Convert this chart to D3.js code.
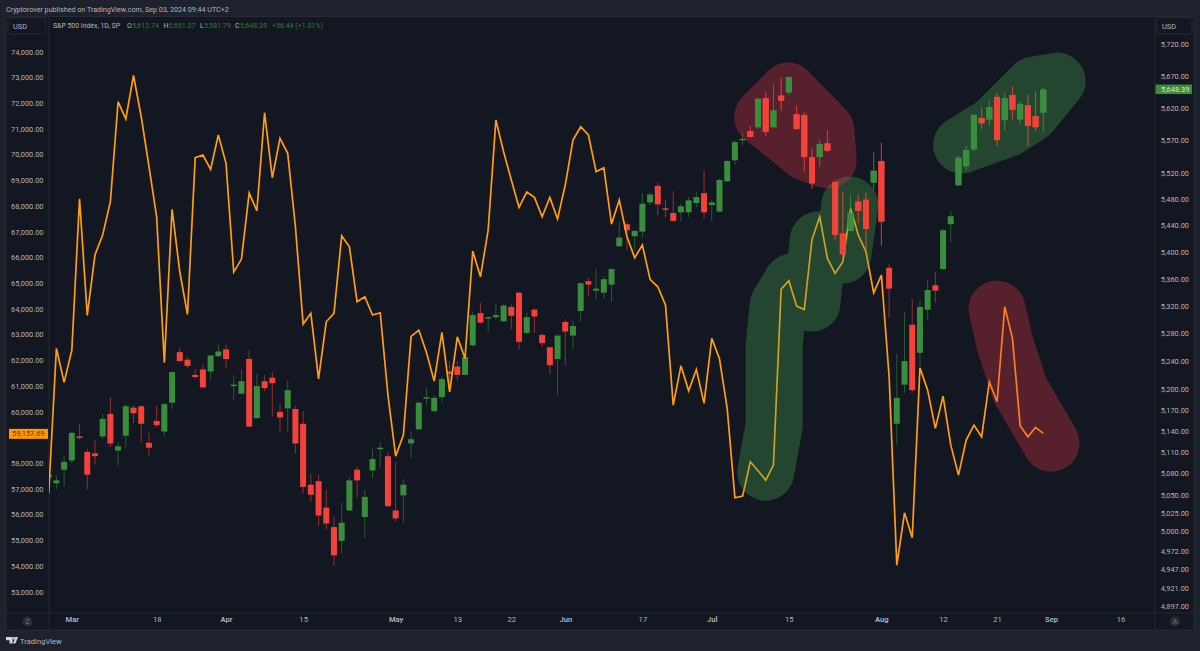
<!DOCTYPE html>
<html><head><meta charset="utf-8">
<style>html,body{margin:0;padding:0;background:#1e222d;overflow:hidden}svg{display:block}text{font-family:Roboto,"Noto Sans",sans-serif}</style>
<script src="https://cdn.jsdelivr.net/npm/d3@7"></script></head><body><svg id="c" width="1200" height="651"></svg>
<script>
const opens=[5074,5066,5085,5098,5132,5110,5108,5132,5164,5112,5133,5173,5175,5123,5154,5139,5180,5253,5242,5220,5228,5225,5247,5257,5204,5193,5243,5158,5211,5216,5167,5172,5171,5150,5064,5069,5032,5005,4986,5028,5085,5019,5084,5114,5104,5028,5049,5122,5142,5186,5168,5188,5225,5232,5220,5263,5310,5302,5304,5298,5319,5340,5281,5315,5278,5260,5243,5297,5277,5313,5357,5343,5340,5352,5409,5442,5424,5431,5475,5500,5466,5459,5460,5460,5474,5489,5471,5461,5507,5539,5571,5584,5590,5635,5590,5639,5644,5610,5609,5544,5544,5565,5506,5428,5432,5476,5479,5505,5538,5377,5150,5206,5293,5252,5315,5351,5375,5442,5501,5530,5556,5604,5602,5637,5601,5640,5602,5624,5607,5612.74];
const highs=[5078,5077,5104,5140,5150,5114,5128,5164,5188,5124,5178,5177,5176,5137,5176,5180,5225,5260,5246,5228,5235,5249,5264,5264,5220,5228,5256,5222,5220,5224,5178,5212,5175,5168,5079,5078,5057,5019,5039,5075,5089,5057,5114,5124,5110,5096,5072,5139,5182,5201,5191,5218,5240,5240,5249,5311,5325,5305,5324,5323,5323,5341,5311,5317,5281,5261,5279,5301,5299,5355,5362,5375,5364,5376,5446,5444,5433,5489,5490,5506,5479,5492,5473,5483,5491,5524,5479,5511,5539,5570,5582,5592,5635,5644,5657,5667,5669,5623,5613,5557,5570,5585,5507,5491,5487,5487,5490,5551,5566,5382,5250,5312,5331,5329,5359,5371,5435,5462,5546,5561,5609,5621,5632,5643,5643,5653,5630,5640,5646,5651.37];
const lows=[5052,5058,5062,5094,5128,5057,5092,5128,5117,5091,5115,5151,5123,5105,5145,5132,5171,5239,5230,5215,5201,5213,5246,5229,5184,5192,5145,5157,5197,5160,5139,5139,5108,5052,5040,5007,5002,4952,4969,5027,5046,4990,5073,5088,5033,5013,5011,5101,5141,5177,5166,5180,5208,5212,5219,5261,5295,5283,5301,5297,5286,5257,5278,5281,5261,5221,5191,5234,5257,5297,5335,5330,5331,5327,5408,5403,5403,5421,5471,5455,5452,5446,5446,5453,5468,5451,5447,5460,5506,5532,5562,5574,5588,5576,5588,5616,5640,5586,5522,5496,5529,5552,5419,5392,5431,5444,5403,5494,5410,5303,5120,5194,5194,5233,5300,5325,5374,5415,5500,5524,5553,5587,5592,5561,5584,5602,5594,5561,5584,5581.79];
const closes=[5078,5070,5096,5137,5130,5078,5104,5157,5122,5118,5175,5165,5150,5116,5148,5178,5224,5240,5233,5217,5202,5248,5254,5243,5206,5211,5146,5204,5201,5208,5159,5198,5122,5061,5050,5021,5010,4966,5011,5070,5070,5047,5100,5116,5034,5017,5064,5128,5180,5188,5187,5214,5221,5220,5246,5307,5296,5304,5307,5321,5306,5268,5304,5305,5266,5234,5277,5283,5291,5354,5352,5346,5360,5375,5422,5433,5432,5473,5487,5472,5464,5447,5469,5478,5483,5460,5475,5509,5538,5567,5572,5575,5634,5583,5616,5631,5668,5587,5544,5504,5564,5554,5426,5397,5459,5462,5435,5523,5446,5346,5187,5240,5198,5319,5344,5343,5433,5454,5543,5555,5609,5596,5621,5570,5635,5617,5626,5592,5590,5648.39];
const overlay=[56833,62462,61140,62396,68282,63746,66092,66870,68165,72055,71382,73082,71471,69554,67581,61902,67869,65442,63785,69877,69982,69425,70760,69659,65430,65936,68503,67815,71627,69099,70631,70048,67192,63408,63824,61280,63497,63824,66842,66414,64275,64469,63758,63847,60646,58273,59090,62929,63174,62299,61190,63085,60774,62913,62073,66247,65247,67064,71343,70110,69009,67947,68542,68336,67581,68336,67492,68815,70565,71082,70760,69332,69488,67298,68231,66803,65987,66481,65146,64858,64147,60257,61785,60813,61645,60323,62851,62058,60128,56651,56717,58051,57701,57339,57923,64769,65092,64108,63972,66702,67581,65963,65380,65831,67908,66870,66220,64625,65314,61385,54033,56067,55095,61708,60840,59350,60607,58701,57534,58895,59479,59024,61163,60385,64081,62851,59452,59024,59389,59157.69];
const leftTicks=[53000,54000,55000,56000,57000,58000,60000,61000,62000,63000,64000,65000,66000,67000,68000,69000,70000,71000,72000,73000,74000];
const rightTicks=[4897,4921,4947,4972,5000,5025,5050,5080,5110,5140,5170,5200,5240,5280,5320,5360,5400,5440,5480,5520,5570,5620,5670,5720];
const timeIdx=[3,14,23,33,45,53,60,67,77,86,96,108,116,123,130,139];
const timeLabels=["Mar","18","Apr","15","May","13","22","Jun","17","Jul","15","Aug","12","21","Sep","16"];
// hand-drawn highlight strokes, as [bar index, left-axis value]
const greenBrush=[[[93,57650],[94.1,59479],[94.1,62591],[94.6,64147],[96.4,65041],[99,64224],[99.8,66675],[103,66092],[103.9,68037]]];
const redBrush=[[[92.6,71460],[95.9,72471],[100.8,70954],[101.1,69787],[98.4,70059],[92.6,71460]]];
const greenBrush2=[[[118.4,70371],[122.6,71149],[125.2,71927],[127.8,72705],[130.8,72860],[127.3,71577],[124.2,70993],[118.4,70371]]];
const redBrush2=[[[123,63991],[124,62668],[126,60840],[130,58778]]];

const svg=d3.select("#c");
const PL=49,PR=1155,PT=17,PB=613;
const x=d3.scaleLinear().domain([0,129]).range([48.7,1043.3]);
const yL=d3.scaleLinear().domain([74000,53000]).range([51.7,591.7]);
const yR=d3.scaleLog().domain([4897,5720]).range([606,44]);
const grid="#2a2e39",bg="#131722",txt="#b2b5be",up="#388e3c",dn="#f4413a";

svg.append("rect").attr("width",1200).attr("height",651).attr("fill","#1e222d");
svg.append("rect").attr("x",6).attr("y",16.5).attr("width",1188).attr("height",613.5).attr("fill",bg).attr("stroke",grid).attr("stroke-width",.8);
svg.append("defs").append("clipPath").attr("id","plot").append("rect").attr("x",PL).attr("y",PT).attr("width",PR-PL).attr("height",PB-PT);
[[PL,PT,PL,630],[PR,PT,PR,630],[6,PB,1194,PB]].forEach(l=>svg.append("line").attr("x1",l[0]).attr("y1",l[1]).attr("x2",l[2]).attr("y2",l[3]).attr("stroke",grid).attr("stroke-width",.8));

svg.append("text").attr("x",6).attr("y",11.5).attr("fill",txt).attr("font-size",7.15).text("Cryptorover published on TradingView.com, Sep 03, 2024 09:44 UTC+2");

const plot=svg.append("g").attr("clip-path","url(#plot)");
const idx=d3.range(opens.length);
const col=i=>closes[i]>=opens[i]?up:dn;
function candles(list){
  const g=plot.append("g");
  g.append("g").selectAll("line").data(list).join("line")
   .attr("x1",x).attr("x2",x).attr("y1",i=>yR(highs[i])).attr("y2",i=>yR(lows[i]))
   .attr("stroke",col).attr("stroke-width",.8).attr("stroke-opacity",.72);
  g.append("g").selectAll("rect").data(list).join("rect")
   .attr("x",i=>x(i)-3).attr("width",6)
   .attr("y",i=>Math.min(yR(opens[i]),yR(closes[i])))
   .attr("height",i=>Math.max(1.5,Math.abs(yR(opens[i])-yR(closes[i]))))
   .attr("fill",col);
}
candles(idx);
plot.append("path").datum(overlay)
 .attr("d",d3.line().x((d,i)=>x(i)).y(d=>yL(d)))
 .attr("fill","none").attr("stroke","#ff9e12").attr("stroke-width",1.7).attr("stroke-linejoin","miter");

const brushLine=d3.line().x(d=>x(d[0])).y(d=>yL(d[1]));
function brush(strokes,color){
  plot.append("path").attr("d",strokes.map(s=>brushLine(s)).join(""))
   .attr("fill","none").attr("stroke",color).attr("stroke-opacity",.3)
   .attr("stroke-width",57).attr("stroke-linecap","round").attr("stroke-linejoin","round");
}
brush(greenBrush,"#4caf50");brush(greenBrush2,"#4caf50");
brush(redBrush,"#f23645");brush(redBrush2,"#f23645");
// candles keep their full colour where the highlights lie over them
candles(idx.filter(i=>(i>=91&&i<=108)||i>=118));

function styleAxis(g){g.select(".domain").remove();g.selectAll("text").attr("fill",txt).attr("font-size",7.4).style("font-family","Roboto,'Noto Sans',sans-serif");}
svg.append("g").attr("transform",`translate(${PL},0)`)
 .call(d3.axisLeft(yL).tickValues(leftTicks).tickSize(0).tickPadding(5.5).tickFormat(d3.format(",.2f"))).call(styleAxis);
svg.append("g").attr("transform",`translate(1189,0)`)
 .call(d3.axisLeft(yR).tickValues(rightTicks).tickSize(0).tickPadding(0).tickFormat(d3.format(",.2f"))).call(styleAxis);
svg.append("g").attr("transform",`translate(0,${PB})`)
 .call(d3.axisBottom(x).tickValues(timeIdx).tickSize(0).tickPadding(4).tickFormat((d,i)=>timeLabels[i])).call(styleAxis)
 .selectAll("text").attr("font-weight",d=>isNaN(+timeLabels[timeIdx.indexOf(d)])?600:400).attr("font-size",7.6);

// legend
const lg=svg.append("g");
lg.append("text").attr("x",53).attr("y",27.5).attr("fill",txt).attr("font-size",6.9).text("S&P 500 Index, 1D, SP");
[["O",127,"5,612.74",132],["H",163.5,"5,651.37",168.5],["L",200,"5,581.79",204],["C",235,"5,648.39",240]].forEach(r=>{
  lg.append("text").attr("x",r[1]).attr("y",27.5).attr("fill",txt).attr("font-size",6.9).text(r[0]);
  lg.append("text").attr("x",r[3]).attr("y",27.5).attr("fill","#2f7d38").attr("font-size",7).text(r[2]);
});
lg.append("text").attr("x",272).attr("y",27.5).attr("fill","#2f7d38").attr("font-size",7).text("+56.44 (+1.01%)");

// USD boxes
[[8,18,38,16],[1157,18,35,16]].forEach(b=>{
  svg.append("rect").attr("x",b[0]).attr("y",b[1]).attr("width",b[2]).attr("height",b[3]).attr("rx",2).attr("fill",bg).attr("stroke",grid).attr("stroke-width",.8);
  svg.append("text").attr("x",b[0]+5).attr("y",b[1]+10.5).attr("fill",txt).attr("font-size",7.4).text("USD");
});
// last-value tags
svg.append("rect").attr("x",9).attr("y",yL(overlay[129])-4.5).attr("width",39).attr("height",10).attr("fill","#ff9800");
svg.append("text").attr("x",12).attr("y",yL(overlay[129])+3).attr("fill","#5a3a10").attr("font-size",7.4).text(d3.format(",.2f")(overlay[129]));
svg.append("rect").attr("x",1155.5).attr("y",yR(closes[129])-5).attr("width",36.5).attr("height",9.5).attr("fill",up);
svg.append("text").attr("x",1161).attr("y",yR(closes[129])+2.5).attr("fill","#d8e8d8").attr("font-size",7.4).text(d3.format(",.2f")(closes[129]));

// corner buttons
[[27.5,"Z"],[1175,"A"]].forEach(b=>{
  svg.append("circle").attr("cx",b[0]).attr("cy",621.5).attr("r",5).attr("fill","#2a2e39");
  svg.append("text").attr("x",b[0]).attr("y",624).attr("text-anchor","middle").attr("fill","#787b86").attr("font-size",6.5).text(b[1]);
});
// TradingView mark
const logo=svg.append("g").attr("fill","#d1d4dc");
logo.append("path").attr("d","M6 637h6.6v6.4h-3.1v-3.2H6z");
logo.append("circle").attr("cx",14).attr("cy",638.3).attr("r",1.2);
logo.append("path").attr("d","M13 643.4l2.5-6.4H18l-2.6 6.4z");
svg.append("text").attr("x",20).attr("y",643.5).attr("fill",txt).attr("font-size",7.6).text("TradingView");
</script></body></html>
